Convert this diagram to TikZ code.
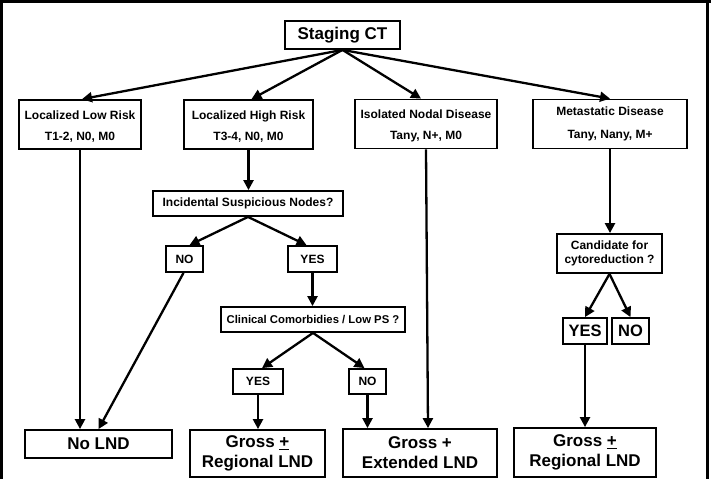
\documentclass[tikz,border=0pt]{standalone}
\usepackage{fontspec}
\setmainfont{Liberation Sans}
\usetikzlibrary{arrows.meta}

\begin{document}
\begin{tikzpicture}[x=1pt, y=-1pt]
    \tikzstyle{box} = [rectangle, draw, line width=1.8pt, inner sep=0pt, align=center, font=\fontsize{12}{14}\selectfont\bfseries]
    \tikzstyle{bigbox} = [box, font=\fontsize{17}{20}\selectfont\bfseries]
    \tikzstyle{arr} = [line width=2.3pt, -{Triangle[length=10pt, width=10pt]}]

    \useasboundingbox (0,0) rectangle (711,479);

    % Frame
    \draw[line width=3pt] (1.5,479) -- (1.5,1.5) -- (711,1.5);
    \draw[line width=2.5pt] (707.5,1.5) -- (707.5,479);

    % Top
    \node[bigbox, minimum width=115, minimum height=28] (staging) at (342.5,35) {Staging CT};

    % Stages
    \node[box, minimum width=122, minimum height=49] (low) at (80,124.5) {\rule{0pt}{13pt}Localized Low Risk\\[7pt]T1-2, N0, M0};
    \node[box, minimum width=129, minimum height=49] (high) at (248.5,124.5) {\rule{0pt}{13pt}Localized High Risk\\[7pt]T3-4, N0, M0};
    \node[box, minimum width=142, minimum height=49] (nodal) at (426,124) {\rule{0pt}{13pt}Isolated Nodal Disease\\[7pt]Tany, N+, M0};
    \node[box, minimum width=154, minimum height=49] (meta) at (610,124) {Metastatic Disease\\[9pt]Tany, Nany, M+};

    % Questions
    \node[box, minimum width=190, minimum height=25] (incid) at (248,203.5) {Incidental Suspicious Nodes?};
    \node[box, minimum width=37, minimum height=26] (no1) at (184.5,259) {NO};
    \node[box, minimum width=49, minimum height=26] (yes1) at (312.5,259) {YES};
    \node[box, minimum width=184, minimum height=25, font=\fontsize{11.3}{14}\selectfont\bfseries] (clin) at (313,319.5) {Clinical Comorbidies / Low PS ?};
    \node[box, minimum width=50, minimum height=25] (yes2) at (258,381.5) {YES};
    \node[box, minimum width=37, minimum height=25] (no2) at (367.5,381.5) {NO};
    \node[box, minimum width=105, minimum height=39] (cand) at (609.5,253.5) {Candidate for\\cytoreduction ?};
    \node[box, minimum width=44, minimum height=26, font=\fontsize{16.5}{18}\selectfont\bfseries] (yes3) at (585,331) {YES};
    \node[box, minimum width=37, minimum height=26, font=\fontsize{16.5}{18}\selectfont\bfseries] (no3) at (630.5,331) {NO};

    % Outcomes
    \node[bigbox, minimum width=147, minimum height=28] (nolnd) at (98.5,444) {No LND};
    \node[bigbox, minimum width=135, minimum height=47] (reg1) at (257.5,453.5) {Gross \underline{+}\\Regional LND};
    \node[bigbox, minimum width=154, minimum height=48] (ext) at (420,453) {Gross +\\Extended LND};
    \node[bigbox, minimum width=142, minimum height=49] (reg2) at (585,452.5) {Gross \underline{+}\\Regional LND};

    % Arrows
    \draw[arr] (staging.south) -- ([xshift=2]low.north);
    \draw[arr] (staging.south) -- ([xshift=3]high.north);
    \draw[arr] (staging.south) -- ([xshift=-5]nodal.north);
    \draw[arr] (staging.south) -- (meta.north);
    \draw[arr] (low.south) -- (low.south |- nolnd.north);
    \draw[arr] (high.south) -- (high.south |- incid.north);
    \draw[arr] (nodal.south) -- ([xshift=8]ext.north);
    \draw[arr] (meta.south) -- (meta.south |- cand.north);

    \draw[arr] (incid.south) -- ([xshift=5]no1.north);
    \draw[arr] (incid.south) -- ([xshift=-6]yes1.north);
    \draw[arr] ([xshift=-1]no1.south) -- (nolnd.north);
    \draw[arr] (yes1.south) -- (yes1.south |- clin.north);
    \draw[arr] (clin.south) -- ([xshift=4]yes2.north);
    \draw[arr] (clin.south) -- ([xshift=-3]no2.north);
    \draw[arr] (yes2.south) -- (yes2.south |- reg1.north);
    \draw[arr] (no2.south) -- (no2.south |- ext.north);

    \draw[arr] (cand.south) -- (yes3.north);
    \draw[arr] (cand.south) -- (no3.north);
    \draw[arr] (yes3.south) -- (yes3.south |- reg2.north);
\end{tikzpicture}
\end{document}
